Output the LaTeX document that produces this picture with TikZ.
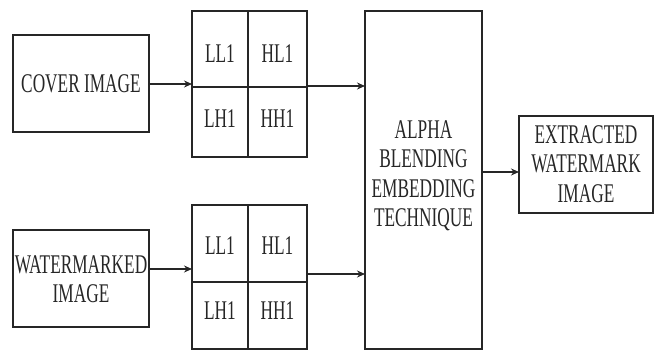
\documentclass[tikz,border=0pt]{standalone}
\usepackage{fontspec}
\usetikzlibrary{arrows.meta}
\newfontfamily\condserif[FakeStretch=0.64]{Liberation Serif}
\begin{document}
\begin{tikzpicture}[x=1pt,y=-1pt,
  box/.style={draw=black!85,line width=1.2pt},
  lbl/.style={font=\condserif\fontsize{27}{29.5}\selectfont,text=black!85,align=center,inner sep=0pt},
  arr/.style={draw=black!85,line width=1.3pt,-{Stealth[length=8pt,width=7pt]}}]
\useasboundingbox (0,0) rectangle (654,351);
% cover image
\draw[box] (13,35) rectangle (149,132);
\node[lbl] (cover) at (81,83.5) {COVER IMAGE};
\coordinate (coverR) at (149,84);
% grid 1
\draw[box] (192,11) rectangle (307,157);
\draw[box] (248,11) -- (248,157);
\draw[box] (192,87) -- (307,87);
\node[lbl] (g1a) at (220,54) {LL1};
\node[lbl] (g1b) at (277.5,54) {HL1};
\node[lbl] (g1c) at (220,119) {LH1};
\node[lbl] (g1d) at (277.5,119) {HH1};
\coordinate (g1L) at (192,84);
\coordinate (g1R) at (307,86);
% watermarked
\draw[box] (13,230) rectangle (149,327);
\node[lbl] (wm) at (81,279) {WATERMARKED\\IMAGE};
\coordinate (wmR) at (149,269);
% grid 2
\draw[box] (192,205) rectangle (307,349);
\draw[box] (248,205) -- (248,349);
\draw[box] (192,282) -- (307,282);
\node[lbl] (g2a) at (220,246) {LL1};
\node[lbl] (g2b) at (277.5,246) {HL1};
\node[lbl] (g2c) at (220,311) {LH1};
\node[lbl] (g2d) at (277.5,311) {HH1};
\coordinate (g2L) at (192,269);
\coordinate (g2R) at (307,274);
% main
\draw[box] (365,11) rectangle (482,349);
\node[lbl] (main) at (423.5,176) {ALPHA\\BLENDING\\EMBEDDING\\TECHNIQUE};
\coordinate (mainA) at (365,86);
\coordinate (mainB) at (365,274);
\coordinate (mainR) at (482,172);
% extracted
\draw[box] (519,116) rectangle (653,213);
\node[lbl] (ext) at (586,164) {EXTRACTED\\WATERMARK\\IMAGE};
\coordinate (extL) at (519,172);
% arrows
\draw[arr] (coverR) -- (g1L);
\draw[arr] (wmR) -- (g2L);
\draw[arr] (g1R) -- (mainA);
\draw[arr] (g2R) -- (mainB);
\draw[arr] (mainR) -- (extL);
\end{tikzpicture}
\end{document}
